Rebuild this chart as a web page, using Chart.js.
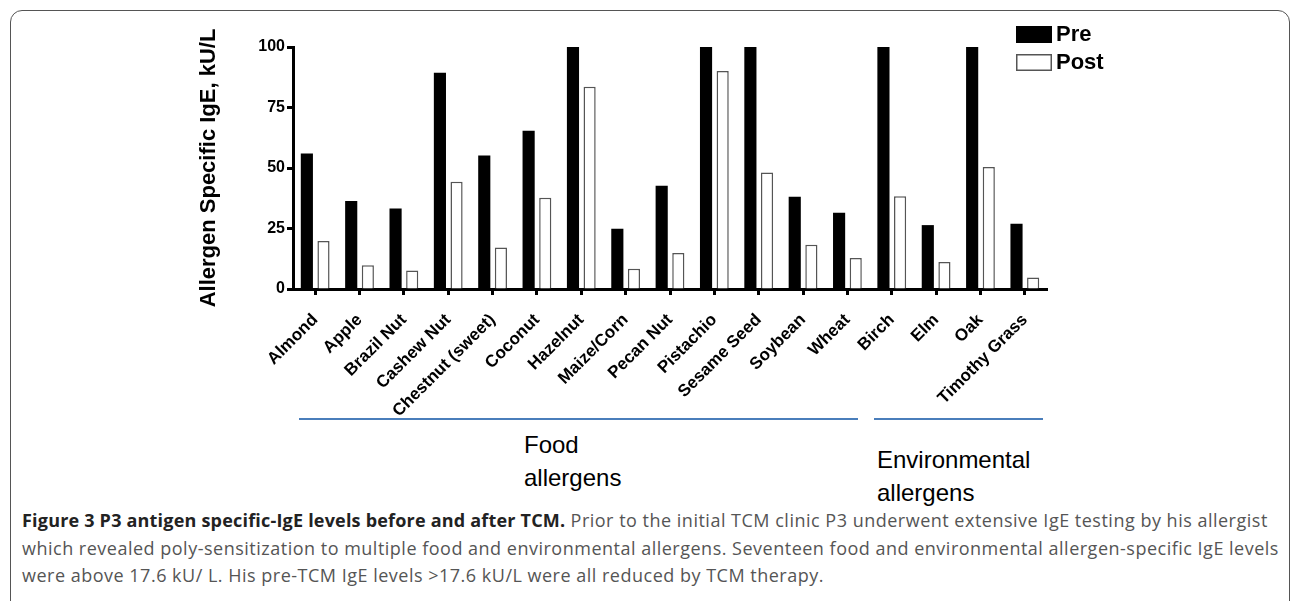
<!DOCTYPE html>
<html lang="en">
<head>
  <meta charset="UTF-8" />
  <title>P3 antigen specific-IgE levels before and after TCM</title>
  <script src="https://cdn.jsdelivr.net/npm/chart.js"></script>
  <style>
    body { margin: 0; background: #fff; width: 1292px; height: 601px; overflow: hidden; position: relative; }
    .frame {
      position: absolute; left: 10px; top: 10px; width: 1278px; height: 700px;
      border: 1.5px solid #555; border-radius: 12px;
    }
    .chart-container { position: absolute; left: 0; top: 0; width: 1292px; height: 420px; }
    .grp-line { position: absolute; top: 418px; height: 2px; background: #4a7ebb; }
    .grp-label { position: absolute; font-family: "Liberation Sans", Arial, sans-serif; font-size: 24px; line-height: 33px; color: #000; }
    .caption {
      position: absolute; left: 22px; top: 507px; width: 1268px;
      font-family: "Open Sans", sans-serif; font-size: 18px; letter-spacing: 0.5px;
      line-height: 27.5px; color: #555; white-space: nowrap;
    }
    .caption b { color: #222; letter-spacing: 0.2px; }
  </style>
</head>
<body>
  <div class="frame"></div>
  <div class="chart-container">
    <canvas id="igeChart"></canvas>
  </div>

  <div class="grp-line" style="left:299px; width:559px;"></div>
  <div class="grp-line" style="left:874px; width:169px;"></div>
  <div class="grp-label" style="left:524px; top:428px;">Food<br>allergens</div>
  <div class="grp-label" style="left:877px; top:443px;">Environmental<br>allergens</div>

  <div class="caption">
    <b>Figure 3 P3 antigen specific-IgE levels before and after TCM.</b> Prior to the initial TCM clinic P3 underwent extensive IgE testing by his allergist<br>
    which revealed poly-sensitization to multiple food and environmental allergens. Seventeen food and environmental allergen-specific IgE levels<br>
    were above 17.6 kU/ L. His pre-TCM IgE levels &gt;17.6 kU/L were all reduced by TCM therapy.
  </div>

  <script>
    const allergens = ['Almond', 'Apple', 'Brazil Nut', 'Cashew Nut', 'Chestnut (sweet)', 'Coconut',
      'Hazelnut', 'Maize/Corn', 'Pecan Nut', 'Pistachio', 'Sesame Seed', 'Soybean', 'Wheat',
      'Birch', 'Elm', 'Oak', 'Timothy Grass'];

    const preValues = [56, 36.4, 33.3, 89.4, 55.2, 65.4, 100, 24.9, 42.7, 100, 100, 38.1, 31.5,
      100, 26.4, 100, 27];
    const postValues = [19.8, 9.8, 7.6, 44.3, 17.2, 37.7, 83.6, 8.4, 14.9, 90.1, 48.1, 18.3, 12.8,
      38.3, 11.2, 50.4, 4.8];

    const yTicks = [0, 25, 50, 75, 100];

    const FONT = '"Liberation Sans", Arial, sans-serif';

    // legend sits partly over the plot's right edge, so draw it by hand
    const boxLegend = {
      id: 'boxLegend',
      afterDraw(chart) {
        const ctx = chart.ctx;
        ctx.save();
        chart.data.datasets.forEach((ds, i) => {
          const x = 1016, y = 26 + i * 28;
          ctx.fillStyle = ds.backgroundColor;
          ctx.fillRect(x, y, 36, 17);
          if (ds.borderWidth) {
            ctx.strokeStyle = ds.borderColor;
            ctx.lineWidth = 1.5;
            ctx.strokeRect(x + 0.75, y + 0.75, 34.5, 15.5);
          }
          ctx.fillStyle = '#000';
          ctx.font = 'bold 22px ' + FONT;
          ctx.textBaseline = 'middle';
          ctx.fillText(ds.label, x + 40, y + 9);
        });
        ctx.restore();
      }
    };

    const data = {
      labels: allergens,
      datasets: [{
        label: 'Pre',
        data: preValues,
        backgroundColor: '#000',
        borderWidth: 0,
        categoryPercentage: 0.75,
        barPercentage: 0.73
      }, {
        label: 'Post',
        data: postValues,
        backgroundColor: '#fff',
        borderColor: '#555',
        borderWidth: 1.5,
        categoryPercentage: 0.75,
        barPercentage: 0.73
      }]
    };

    const config = {
      type: 'bar',
      data: data,
      options: {
        responsive: true,
        maintainAspectRatio: false,
        animation: false,
        layout: { padding: { left: 196, right: 245, top: 47, bottom: 0 } },
        plugins: {
          legend: { display: false },
          tooltip: { enabled: false }
        },
        scales: {
          x: {
            afterFit: (scale) => { scale.height = 131; },
            border: { color: '#000', width: 3 },
            grid: {
              offset: false,
              drawOnChartArea: false,
              tickLength: 6,
              tickWidth: 3,
              tickColor: '#000'
            },
            ticks: {
              color: '#000',
              font: { family: FONT, size: 17, weight: 'bold' },
              minRotation: 45,
              maxRotation: 45,
              autoSkip: false,
              padding: 15
            }
          },
          y: {
            min: 0,
            max: 100,
            afterFit: (scale) => { scale.width = 97; },
            afterBuildTicks: (scale) => { scale.ticks = yTicks.map(v => ({ value: v })); },
            border: { color: '#000', width: 3 },
            grid: {
              drawOnChartArea: false,
              tickLength: 6,
              tickWidth: 3,
              tickColor: '#000'
            },
            ticks: {
              color: '#000',
              font: { family: FONT, size: 16, weight: 'bold' },
              padding: 2
            },
            title: {
              display: true,
              text: 'Allergen Specific IgE, kU/L',
              color: '#000',
              font: { family: FONT, size: 22, weight: 'bold' },
              padding: { top: 0, bottom: 0 }
            }
          }
        }
      },
      plugins: [boxLegend]
    };

    new Chart(document.getElementById('igeChart'), config);
  </script>

</body>
</html>
